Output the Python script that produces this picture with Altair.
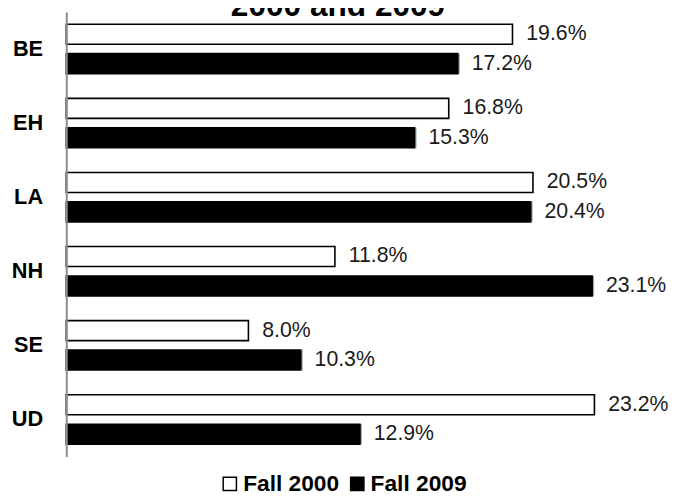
import altair as alt
import pandas as pd

categories = ["BE", "EH", "LA", "NH", "SE", "UD"]
series = ["Fall 2000", "Fall 2009"]
fall_2000 = [19.6, 16.8, 20.5, 11.8, 8.0, 23.2]
fall_2009 = [17.2, 15.3, 20.4, 23.1, 10.3, 12.9]
title_text = "2000 and 2009"

rows = []
for c, a, b in zip(categories, fall_2000, fall_2009):
    rows.append({"cat": c, "series": series[0], "value": a, "label": f"{a:.1f}%"})
    rows.append({"cat": c, "series": series[1], "value": b, "label": f"{b:.1f}%"})
df = pd.DataFrame(rows)

FONT = "Liberation Sans"

y_enc = alt.Y("cat:N", sort=categories,
              scale=alt.Scale(paddingInner=0, paddingOuter=0),
              axis=alt.Axis(title=None, ticks=False, labelFont=FONT, labelFontSize=22,
                            labelFontWeight="bold", labelColor="#000000", labelPadding=24,
                            domainColor="#8c8c8c", domainWidth=2, zindex=1))
yoff_enc = alt.YOffset("series:N", sort=series,
                       scale=alt.Scale(domain=series, paddingInner=0.32, paddingOuter=0.42))
x_enc = alt.X("value:Q", scale=alt.Scale(domain=[0, 25], nice=False), axis=None)

base = alt.Chart(df)

shadow = base.transform_filter(alt.datum.series == series[1]).mark_bar(
    color="#a6a6a6", xOffset=2, yOffset=2
).encode(x=x_enc, y=y_enc, yOffset=yoff_enc)

bars = base.mark_bar(stroke="#000000", strokeWidth=1.6).encode(
    x=x_enc, y=y_enc, yOffset=yoff_enc,
    color=alt.Color("series:N", sort=series,
                    scale=alt.Scale(domain=series, range=["#ffffff", "#000000"]),
                    legend=alt.Legend(title=None, orient="none", direction="horizontal",
                                      legendX=154, legendY=466,
                                      symbolType="square", symbolSize=180,
                                      symbolStrokeColor="#000000", symbolStrokeWidth=1.5,
                                      labelFont=FONT, labelFontSize=23, labelFontWeight="bold",
                                      labelColor="#000000", labelOffset=2, columnPadding=6,
                                      labelLimit=300))
)

labels = base.mark_text(align="left", baseline="middle", dx=14, font=FONT,
                        fontSize=21.5, color="#1a1a1a").encode(
    x=x_enc, y=y_enc, yOffset=yoff_enc, text="label:N")

title = alt.Chart(pd.DataFrame({"t": [title_text]})).mark_text(
    align="center", baseline="alphabetic", font=FONT, fontSize=32,
    fontWeight="bold", color="#000000"
).encode(x=alt.value(275), y=alt.value(4), text="t:N")

chart = alt.layer(shadow, bars, labels, title).properties(
    width=576, height=450,
    autosize=alt.AutoSizeParams(type="none"),
    padding={"left": 59, "top": 1, "right": 34, "bottom": 36},
).configure_view(stroke=None)

chart.save("out.html", embed_options={"renderer": "svg", "actions": False})
